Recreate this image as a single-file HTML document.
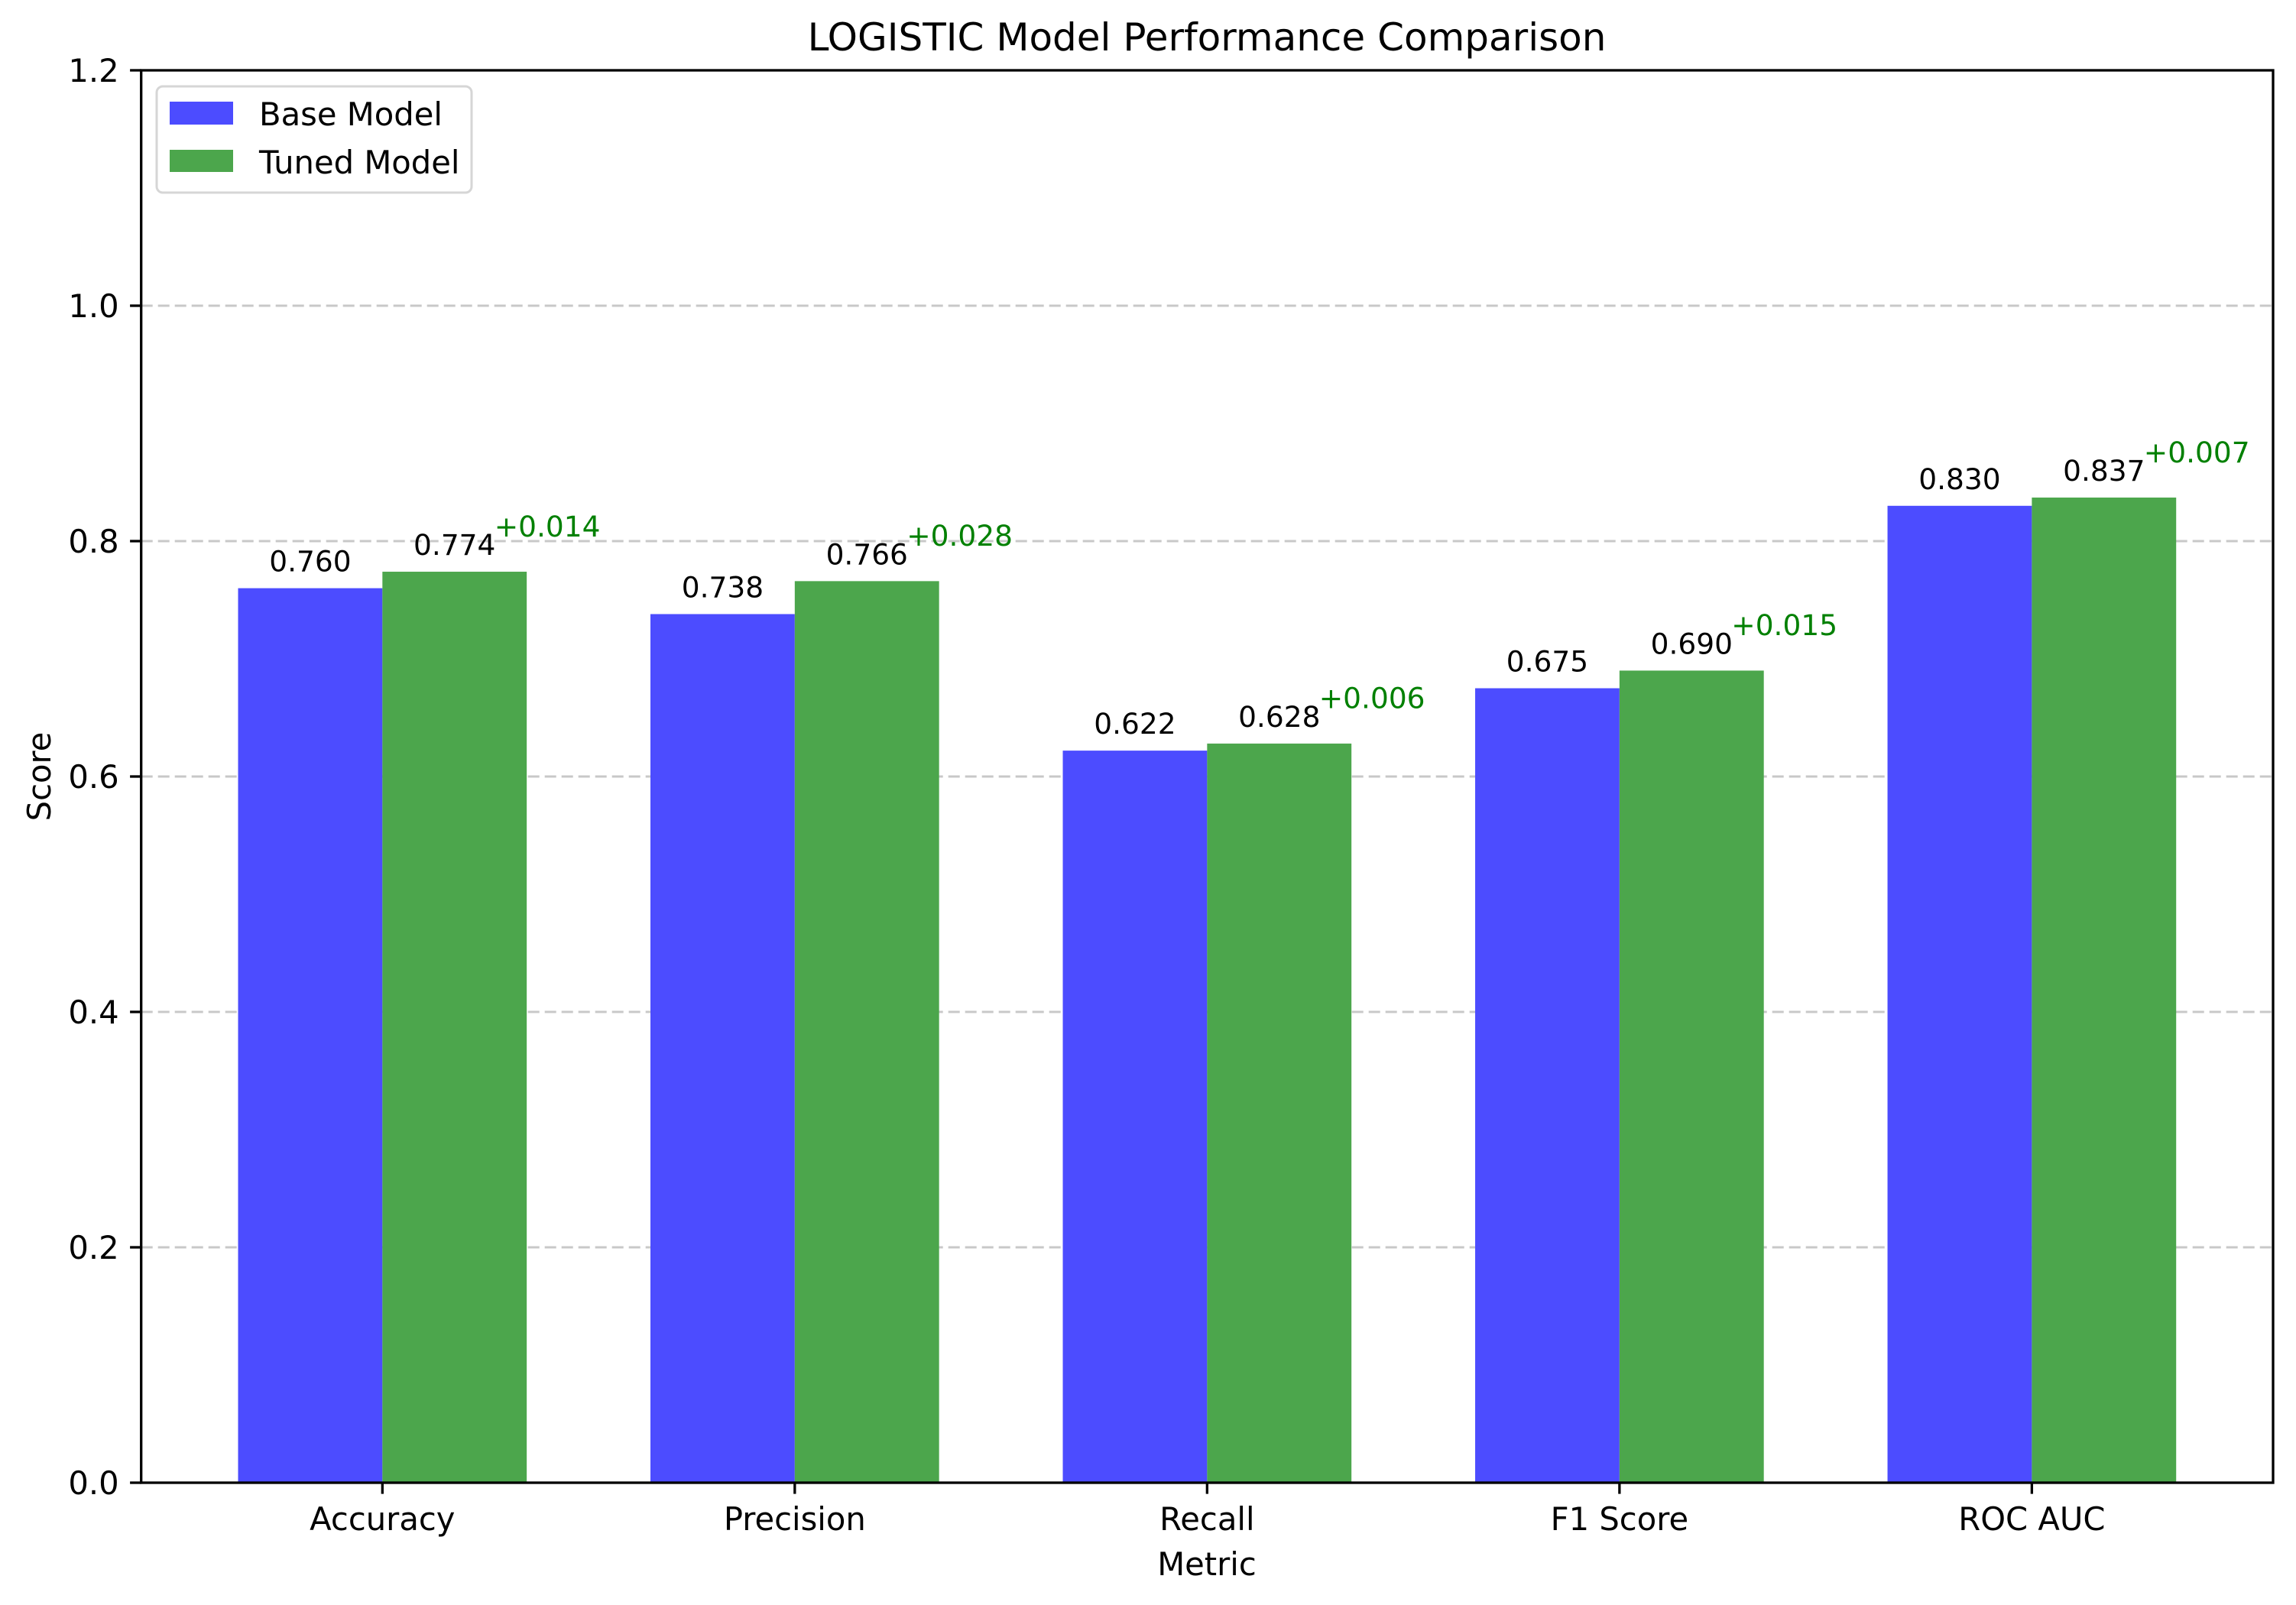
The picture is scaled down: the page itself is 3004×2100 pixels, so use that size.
<!DOCTYPE html>
<html><head><meta charset="utf-8"><style>
html,body{margin:0;padding:0;background:#fff;}
svg{display:block;font-family:"DejaVu Sans","Liberation Sans",sans-serif;}
</style></head><body>
<svg id="chart" width="3004" height="2100" viewBox="0 0 3004 2100" xmlns="http://www.w3.org/2000/svg">
<rect width="3004" height="2100" fill="#fff"/>
<g id="grid"></g><g id="bars"></g><g id="labels"></g><g id="axes"></g>
<text x="1579" y="66" font-size="50" text-anchor="middle">LOGISTIC Model Performance Comparison</text>
<text x="1579" y="2061" font-size="41.7" text-anchor="middle">Metric</text>
<text x="0" y="0" font-size="41.7" text-anchor="middle" transform="translate(66,1016) rotate(-90)">Score</text>
<g>
<rect x="205" y="113" width="412" height="139" rx="8" fill="#fff" fill-opacity="0.8" stroke="#d6d6d6" stroke-width="3"/>
<rect x="222" y="133" width="83" height="30" fill="#4c4cff"/>
<text x="339" y="164" font-size="41.7">Base Model</text>
<rect x="222" y="196" width="83" height="29" fill="#4ca64c"/>
<text x="339" y="227" font-size="41.7">Tuned Model</text>
</g>
</svg>
<script>
const categories = ["Accuracy","Precision","Recall","F1 Score","ROC AUC"];
const baseValues = [0.760,0.738,0.622,0.675,0.830];
const tunedValues = [0.774,0.766,0.628,0.690,0.837];
const yTicks = [0.0,0.2,0.4,0.6,0.8,1.0,1.2];
const yTickLabels = ["0.0","0.2","0.4","0.6","0.8","1.0","1.2"];

const NS="http://www.w3.org/2000/svg";
const L=184.7,R=2974,T=92,B=1940;
const xmin=-0.585,xmax=4.585,ymax=1.2;
const xs=v=>L+(v-xmin)/(xmax-xmin)*(R-L);
const ys=v=>B-v/ymax*(B-T);
const bw=0.35;
function mk(tag,attrs,parent,text){const e=document.createElementNS(NS,tag);for(const k in attrs)e.setAttribute(k,attrs[k]);if(text!==undefined)e.textContent=text;document.getElementById(parent).appendChild(e);return e;}

yTicks.forEach((t,i)=>{
  if(t>0&&t<ymax){const g=mk("line",{x1:L,x2:R,y1:ys(t),y2:ys(t),stroke:"#c8c8c8","stroke-width":3,"stroke-dasharray":"15,7"},"grid");
  
  }
  const tk=mk("line",{x1:L-14.6,x2:L,y1:ys(t),y2:ys(t),stroke:"#000","stroke-width":3.3},"axes");
  
  
  const tl=mk("text",{x:L-29,y:ys(t)+15,"font-size":41.7,"text-anchor":"end"},"axes",yTickLabels[i]);
  
  
});

categories.forEach((c,i)=>{
  const b=mk("rect",{x:xs(i-bw),y:ys(baseValues[i]),width:xs(i)-xs(i-bw),height:B-ys(baseValues[i]),fill:"#4c4cff"},"bars");
  
  
  const t=mk("rect",{x:xs(i),y:ys(tunedValues[i]),width:xs(i+bw)-xs(i),height:B-ys(tunedValues[i]),fill:"#4ca64c"},"bars");
  
  
  const bl=mk("text",{x:xs(i-bw/2),y:ys(baseValues[i])-22,"font-size":37.5,"text-anchor":"middle"},"labels",baseValues[i].toFixed(3));
  
  
  const tl=mk("text",{x:xs(i+bw/2),y:ys(tunedValues[i])-22,"font-size":37.5,"text-anchor":"middle"},"labels",tunedValues[i].toFixed(3));
  
  
  const d=tunedValues[i]-baseValues[i];
  const dl=mk("text",{x:xs(i+0.4),y:ys(tunedValues[i]+0.03),"font-size":37.5,"text-anchor":"middle",fill:"#008000"},"labels",(d>=0?"+":"")+d.toFixed(3));
  
  
  const xt=mk("line",{x1:xs(i),x2:xs(i),y1:B,y2:B+14.6,stroke:"#000","stroke-width":3.3},"axes");
  
  
  const xl=mk("text",{x:xs(i),y:B+62,"font-size":41.7,"text-anchor":"middle"},"axes",c);
  
  
});
const fr=mk("rect",{x:L,y:T,width:R-L,height:B-T,fill:"none",stroke:"#000","stroke-width":3.3},"axes");


</script>
</body></html>
